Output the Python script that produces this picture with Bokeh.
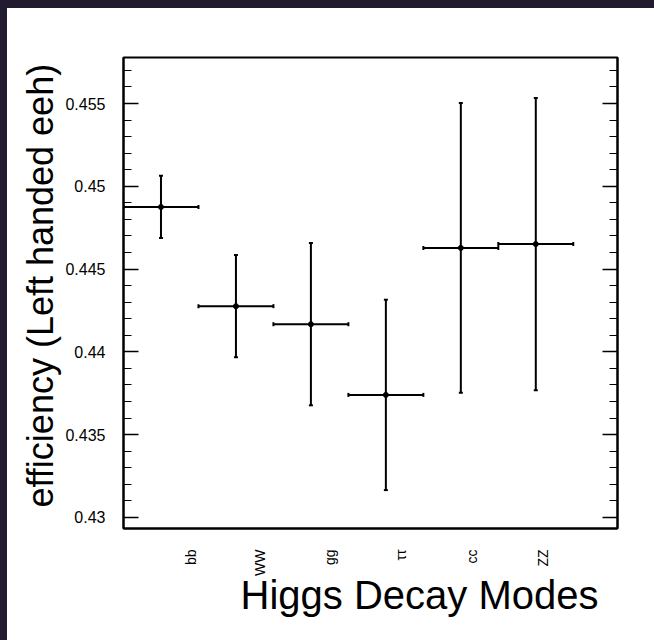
import numpy as np
from bokeh.plotting import figure
from bokeh.models import (Range1d, LinearAxis, FixedTicker, SingleIntervalTicker,
                          NumeralTickFormatter, Title, ColumnDataSource, Column)
from bokeh.embed import file_html
from bokeh.resources import INLINE

# ---- data ----
modes = ["bb", "WW", "gg", "ττ", "cc", "ZZ"]
efficiency = [0.44875, 0.44276, 0.44167, 0.43740, 0.44628, 0.44651]
eff_error = [0.00188, 0.00309, 0.00490, 0.00575, 0.00875, 0.00883]
# axis label tick positions (bin units)
label_ticks = [0.90, 1.82, 2.76, 3.70, 4.65, 5.59]

FONT = "Liberation Sans"

centers = [i + 0.5 for i in range(len(modes))]
src = ColumnDataSource(dict(
    x=centers,
    y=efficiency,
    x0=[c - 0.5 for c in centers],
    x1=[c + 0.5 for c in centers],
    y0=[v - e for v, e in zip(efficiency, eff_error)],
    y1=[v + e for v, e in zip(efficiency, eff_error)],
))

p = figure(width=647, height=632, output_backend="svg", toolbar_location=None,
           x_range=Range1d(0, 6.59), y_range=Range1d(0.42933, 0.45778),
           min_border_left=116, min_border_right=37, min_border_top=49,
           min_border_bottom=112, background_fill_color="white",
           border_fill_color="white")
p.grid.visible = False
p.outline_line_color = "black"
p.outline_line_width = 2

yticker = SingleIntervalTicker(interval=0.005, num_minor_ticks=5)

ya = p.yaxis[0]
ya.ticker = yticker
ya.formatter = NumeralTickFormatter(format="0.[000]")
ya.major_tick_in = 15
ya.major_tick_out = 0
ya.minor_tick_in = 8
ya.minor_tick_out = 0
ya.axis_line_width = 2
ya.major_tick_line_width = 1.5
ya.minor_tick_line_width = 1
ya.major_label_standoff = 18
ya.major_label_text_font = FONT
ya.major_label_text_font_size = "16px"
ya.major_label_text_color = "black"

yt = Title(text="efficiency (Left handed eeh)", align="left", text_font=FONT,
           text_font_size="36px", text_font_style="normal", text_color="black",
           offset=21, standoff=4)
p.add_layout(yt, "left")

ra = LinearAxis(ticker=yticker, major_tick_in=15, major_tick_out=0,
                minor_tick_in=8, minor_tick_out=0, axis_line_width=2,
                major_tick_line_width=1.5, major_label_text_color=None,
                major_label_text_font_size="0px")
p.add_layout(ra, "right")

xa = p.xaxis[0]
xa.ticker = FixedTicker(ticks=label_ticks)
xa.major_label_overrides = {t: m for t, m in zip(label_ticks, modes)}
xa.major_label_orientation = np.pi / 2
xa.major_tick_in = 0
xa.major_tick_out = 0
xa.minor_tick_in = 0
xa.minor_tick_out = 0
xa.axis_line_width = 2
xa.major_label_standoff = 21
xa.major_label_text_font = FONT
xa.major_label_text_font_size = "14px"
xa.major_label_text_color = "black"

xt = Title(text="Higgs Decay Modes", align="right", text_font=FONT,
           text_font_size="40px", text_font_style="normal", text_color="black",
           offset=19, standoff=-12, vertical_align="top")
p.add_layout(xt, "below")

# error bars
p.segment(x0="x", y0="y0", x1="x", y1="y1", source=src, line_color="black", line_width=2)
p.segment(x0="x0", y0="y", x1="x1", y1="y", source=src, line_color="black", line_width=2)
p.scatter(x="x", y="y0", source=src, marker="dash", size=4, line_color="black", line_width=2)
p.scatter(x="x", y="y1", source=src, marker="dash", size=4, line_color="black", line_width=2)
p.scatter(x="x0", y="y", source=src, marker="dash", angle=np.pi / 2, size=4, line_color="black", line_width=2)
p.scatter(x="x1", y="y", source=src, marker="dash", angle=np.pi / 2, size=4, line_color="black", line_width=2)
p.scatter(x="x", y="y", source=src, marker="circle", size=5, color="black")

root = Column(children=[p], styles={"background-color": "white",
                                    "border-top": "8px solid #221a2e",
                                    "border-left": "7px solid #221a2e"})

open("out.html", "w").write(file_html(root, INLINE))
